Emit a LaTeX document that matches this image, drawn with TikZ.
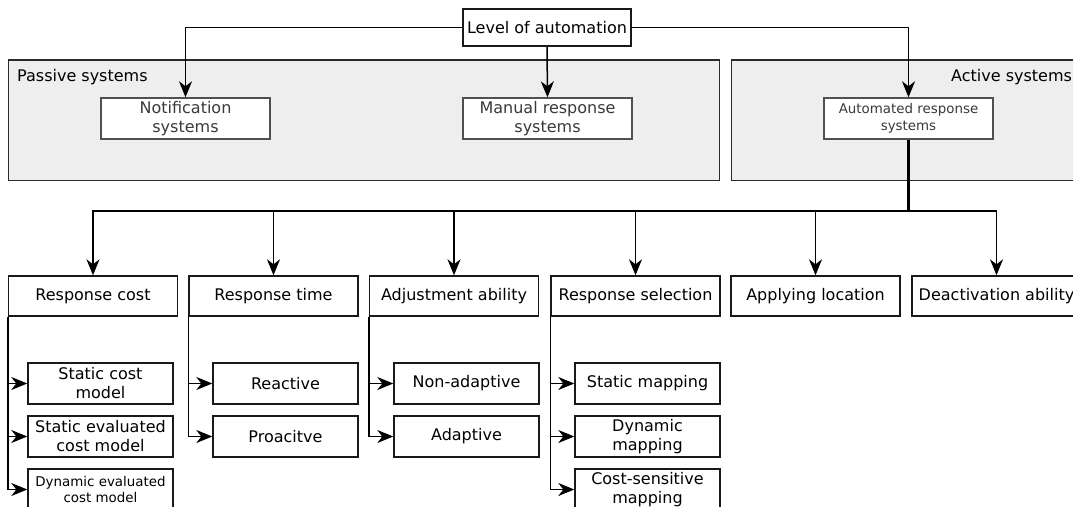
\documentclass[tikz,border=0pt]{standalone}
\usepackage{fontspec}
\setmainfont{DejaVu Sans}
\usetikzlibrary{arrows.meta}
\definecolor{contfill}{HTML}{EEEEEE}
\definecolor{contline}{HTML}{2A2A2A}
\definecolor{graytext}{HTML}{3A3A3A}
\definecolor{grayline}{HTML}{505050}
\tikzset{
  base/.style={draw=black!90, line width=1.4pt, fill=white, inner sep=0pt, align=center,
    font=\fontsize{16}{19}\selectfont},
  topbox/.style={base, minimum width=168pt, minimum height=37pt},
  sysbox/.style={base, draw=grayline, text=graytext, minimum width=169pt, minimum height=41pt},
  catbox/.style={base, minimum width=169pt, minimum height=40pt},
  subbox/.style={base, minimum width=145pt, minimum height=41pt},
  smalltext/.style={font=\fontsize{13.4}{16.7}\selectfont},
  container/.style={draw=contline, fill=contfill, line width=1.4pt},
  arr/.style={draw=black, line width=1.5pt, -{Stealth[length=16pt, width=13pt, inset=5pt]}},
  lbl/.style={inner sep=0pt, font=\fontsize{16}{19}\selectfont},
}
\begin{document}
\begin{tikzpicture}[x=1pt, y=-1pt]
\useasboundingbox (0,0) rectangle (1073,506);
\clip (0,0) rectangle (1073,506);

% containers
\draw[container] (8.5,60) rectangle (719.5,180.5);
\draw[container] (731.5,60) rectangle (1095,180.5);
\node[lbl, anchor=west] (plbl) at (17,77) {Passive systems};
\node[lbl, anchor=west] (albl) at (951,77) {Active systems};

% top
\node[topbox] (top) at (547,27.5) {Level of automation};

% systems
\node[sysbox] (notif) at (185.5,118.5) {Notification\\systems};
\node[sysbox] (manual) at (547.5,118.5) {Manual response\\systems};
\node[sysbox, smalltext] (auto) at (908.5,118.5) {Automated response\\systems};

\draw[arr] (top.west) -| (notif.north);
\draw[arr] (top.south) -- (manual.north);
\draw[arr] (top.east) -| (auto.north);

% categories
\node[catbox] (rc) at (93,296) {Response cost};
\node[catbox] (rt) at (273.5,296) {Response time};
\node[catbox] (aa) at (454,296) {Adjustment ability};
\node[catbox] (rs) at (635.5,296) {Response selection};
\node[catbox] (al) at (815.5,296) {Applying location};
\node[catbox] (da) at (996.5,296) {Deactivation ability};

\coordinate (bus) at (908.5,211);
\draw[line width=2.2pt, black] (auto.south) -- (bus);
\foreach \n in {rc,rt,aa,rs,al,da}
  \draw[arr] (bus) -| (\n.north);

% sub items
\node[subbox] (rc1) at (100.5,383.5) {Static cost\\model};
\node[subbox] (rc2) at (100.5,436.5) {Static evaluated\\cost model};
\node[subbox, smalltext] (rc3) at (100.5,489.5) {Dynamic evaluated\\cost model};

\node[subbox] (rt1) at (285.5,383.5) {Reactive};
\node[subbox] (rt2) at (285.5,436.5) {Proacitve};

\node[subbox] (aa1) at (466.5,383.5) {Non-adaptive};
\node[subbox] (aa2) at (466.5,436.5) {Adaptive};

\node[subbox] (rs1) at (647.5,383.5) {Static mapping};
\node[subbox] (rs2) at (647.5,436.5) {Dynamic\\mapping};
\node[subbox] (rs3) at (647.5,489.5) {Cost-sensitive\\mapping};

\foreach \p/\c in {rc/rc1,rc/rc2,rc/rc3,rt/rt1,rt/rt2,aa/aa1,aa/aa2,rs/rs1,rs/rs2,rs/rs3}
  \draw[arr] (\p.south west) |- (\c.west);
\end{tikzpicture}
\end{document}
